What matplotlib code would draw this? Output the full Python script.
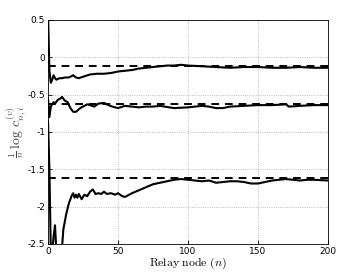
import matplotlib
matplotlib.use("Agg")
import matplotlib.pyplot as plt

plt.rcParams['mathtext.fontset'] = 'cm'

# limits the curves approach
limits = [-0.12, -0.62, -1.62]

# top curve
n1 = [0, 1, 2, 3, 4, 5, 6, 8, 10, 12, 15, 18, 20, 22, 25, 30, 35, 40, 45, 50, 55, 60, 65, 70,
      75, 80, 85, 90, 95, 100, 110, 120, 130, 140, 150, 160, 170, 180, 190, 200]
v1 = [0.6, -0.18, -0.34, -0.3, -0.24, -0.28, -0.3, -0.28, -0.28, -0.27, -0.27, -0.24, -0.27, -0.28,
      -0.26, -0.23, -0.22, -0.22, -0.21, -0.19, -0.18, -0.17, -0.15, -0.14, -0.13, -0.12, -0.11,
      -0.11, -0.1, -0.11, -0.12, -0.13, -0.14, -0.13, -0.13, -0.14, -0.14, -0.13, -0.14, -0.14]

# middle curve
n2 = [0, 1, 2, 3, 4, 5, 7, 9, 10, 12, 14, 16, 18, 20, 23, 26, 28, 30, 33, 36, 40, 43, 46, 50,
      55, 60, 65, 70, 75, 80, 90, 100, 110, 115, 120, 125, 130, 140, 150, 160, 170, 172, 180, 190, 200]
v2 = [-0.55, -0.8, -0.66, -0.63, -0.6, -0.62, -0.57, -0.55, -0.53, -0.58, -0.6, -0.68, -0.73, -0.73,
      -0.68, -0.65, -0.63, -0.64, -0.66, -0.62, -0.61, -0.64, -0.66, -0.68, -0.65, -0.66, -0.67,
      -0.66, -0.66, -0.65, -0.68, -0.67, -0.65, -0.66, -0.68, -0.68, -0.66, -0.65, -0.64, -0.64,
      -0.63, -0.66, -0.65, -0.64, -0.64]

# bottom curve
n3 = [0, 1, 2, 3, 4, 5, 6, 7, 9, 10, 11, 12, 13, 15, 17, 18, 19, 20, 21, 22, 24, 26, 28, 30,
      32, 34, 36, 38, 40, 42, 45, 48, 50, 53, 55, 58, 60, 65, 70, 75, 80, 85, 90, 95, 100,
      105, 110, 115, 120, 125, 130, 135, 140, 145, 150, 155, 160, 165, 170, 175, 180, 185, 190, 200]
v3 = [-0.85, -1.5, -2.6, -2.6, -2.4, -2.25, -2.6, -2.6, -2.6, -2.55, -2.3, -2.2, -2.1, -1.95,
      -1.85, -1.82, -1.88, -1.84, -1.88, -1.83, -1.9, -1.84, -1.86, -1.8, -1.77, -1.83, -1.82,
      -1.83, -1.8, -1.83, -1.82, -1.84, -1.82, -1.86, -1.87, -1.84, -1.82, -1.78, -1.74, -1.7,
      -1.68, -1.66, -1.64, -1.63, -1.64, -1.65, -1.66, -1.65, -1.68, -1.67, -1.66, -1.66, -1.67,
      -1.69, -1.69, -1.67, -1.65, -1.64, -1.63, -1.64, -1.65, -1.64, -1.64, -1.65]

fig = plt.figure(figsize=(3.62, 2.72), dpi=100)
ax = fig.add_axes([0.1326, 0.103, 0.7735, 0.8235])

for lim in limits:
    ax.axhline(lim, color='k', linestyle=(0, (4, 3)), linewidth=1.4)
ax.plot(n1, v1, color='k', linewidth=1.5)
ax.plot(n2, v2, color='k', linewidth=1.5)
ax.plot(n3, v3, color='k', linewidth=1.5)

ax.set_xlim(0, 200)
ax.set_ylim(-2.5, 0.5)
ax.set_xticks([0, 50, 100, 150, 200])
ax.set_yticks([-2.5, -2, -1.5, -1, -0.5, 0, 0.5])
ax.set_yticklabels(['-2.5', '-2', '-1.5', '-1', '-0.5', '0', '0.5'])
ax.tick_params(direction='in', labelsize=6.5, length=3, width=0.6, pad=2)
ax.grid(True, color='#aaaaaa', linestyle=':', linewidth=0.6)
for s in ax.spines.values():
    s.set_linewidth(0.6)

ax.set_xlabel(r'$\mathrm{Relay\ node}\ (n)$', fontsize=8.5, labelpad=0)
ax.set_ylabel(r'$\frac{1}{n}\,\log\,c_{n,i}^{(v)}$', fontsize=10, labelpad=0, color='#444444')

fig.savefig('out.png', dpi=100)
